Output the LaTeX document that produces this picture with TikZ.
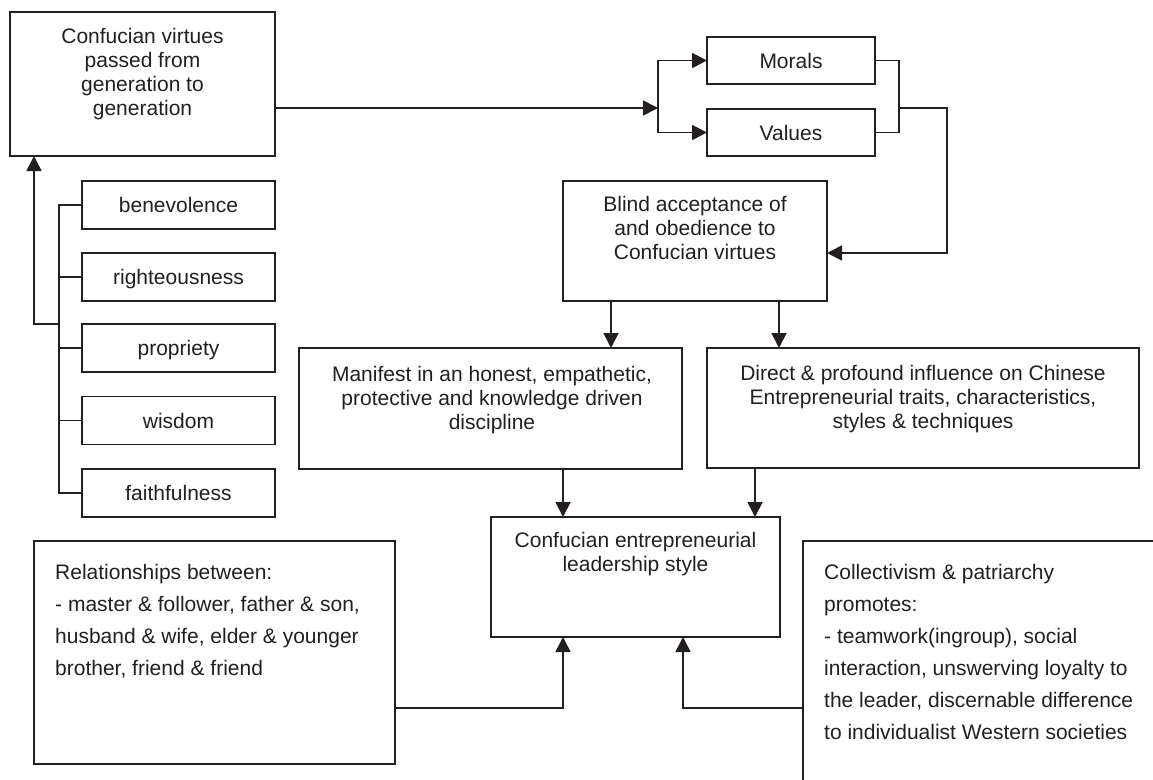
\documentclass[tikz,border=0pt]{standalone}
\usepackage{fontspec}
\setmainfont{Liberation Sans}
\usetikzlibrary{arrows.meta}
\definecolor{ink}{HTML}{231F20}
\tikzset{
  box/.style={draw=ink, line width=1.7pt, inner sep=0pt, outer sep=0pt, fill=white},
  label text/.style={font=\fontsize{21}{24}\selectfont, text height=15pt, text depth=0pt, text=ink},
  txt/.style={font=\fontsize{21}{24}\selectfont, align=center, inner sep=0pt, anchor=north, text=ink},
  widetxt/.style={font=\fontsize{21}{32}\selectfont, align=left, inner sep=0pt, anchor=north west, text=ink},
  conn/.style={draw=ink, line width=1.7pt, line join=miter},
  arr/.style={conn, -{Triangle[length=15pt,width=15pt]}},
}
\begin{document}
\begin{tikzpicture}[x=1pt,y=-1pt]
\useasboundingbox (0,0) rectangle (1153,779);
\clip (0,0) rectangle (1153,779);

% source box
\node[box, minimum width=265pt, minimum height=144pt] (A) at (142.5,84) {};
\node[txt] (Atext) at (142.5,26.2) {\strut Confucian virtues\\passed from\\generation to\\generation};

% the five virtues
\node[box, label text, minimum width=193pt, minimum height=48pt] (v1) at (178.5,205) {benevolence};
\node[box, label text, minimum width=193pt, minimum height=48pt] (v2) at (178.5,277) {righteousness};
\node[box, label text, minimum width=193pt, minimum height=48pt] (v3) at (178.5,348.3) {propriety};
\node[box, label text, minimum width=193pt, minimum height=48pt] (v4) at (178.5,420.5) {wisdom};
\node[box, label text, minimum width=193pt, minimum height=48pt] (v5) at (178.5,492.8) {faithfulness};

% morals and values
\node[box, label text, minimum width=168pt, minimum height=47pt] (M) at (791,60.5) {Morals};
\node[box, label text, minimum width=168pt, minimum height=47pt] (V) at (791,132.5) {Values};

% blind acceptance
\node[box, minimum width=264pt, minimum height=120pt] (B) at (695,241) {};
\node[txt] (Btext) at (695,194.2) {\strut Blind acceptance of\\and obedience to\\Confucian virtues};

% two consequences
\node[box, minimum width=383pt, minimum height=121pt] (Mf) at (490.5,408.5) {};
\node[txt] (Mftext) at (492,364.2) {\strut Manifest in an honest, empathetic,\\protective and knowledge driven\\discipline};
\node[box, minimum width=432pt, minimum height=120pt] (D) at (923,408) {};
\node[txt] (Dtext) at (923,363.2) {\strut Direct \& profound influence on Chinese\\Entrepreneurial traits, characteristics,\\styles \& techniques};

% leadership style
\node[box, minimum width=289pt, minimum height=120pt] (L) at (635.5,577) {};
\node[txt] (Ltext) at (635.5,530.2) {\strut Confucian entrepreneurial\\leadership style};

% relationships
\node[box, minimum width=361pt, minimum height=223pt] (R) at (214.5,652.5) {};
\node[widetxt] (Rtext) at (55,556.6) {\strut Relationships between:\\- master \& follower, father \& son,\\husband \& wife, elder \& younger\\brother, friend \& friend};

% collectivism (runs past the page edge)
\node[box, minimum width=447pt, minimum height=359pt] (C) at (1026.5,720.5) {};
\node[widetxt] (Ctext) at (824,556.6) {\strut Collectivism \& patriarchy\\promotes:\\- teamwork(ingroup), social\\interaction, unswerving loyalty to\\the leader, discernable difference\\to individualist Western societies};

% bus collecting the virtues
\coordinate (bus) at (59,0);
\coordinate (busJ) at (59,324);
\coordinate (upL) at (34,324);
\draw[conn] (v1.west) -- (v1.west -| bus) -- (v5.west -| bus) -- (v5.west);
\draw[conn] (v2.west) -- (v2.west -| bus);
\draw[conn] (v3.west) -- (v3.west -| bus);
\draw[conn] (v4.west) -- (v4.west -| bus);
\draw[arr] (busJ) -- (upL) -- (upL |- A.south);

% source to morals and values
\coordinate (split) at (658,108);
\draw[arr] (split -| A.east) -- (split);
\draw[arr] (split) |- (M.west);
\draw[arr] (split) |- (V.west);

% morals and values to blind acceptance
\coordinate (merge) at (899,108);
\coordinate (bend) at (947,253);
\draw[conn] (M.east) -| (merge) |- (V.east);
\draw[arr] (merge) -| (bend) -- (bend -| B.east);

% blind acceptance to the two consequences
\coordinate (b1) at (611,0);
\coordinate (b2) at (779,0);
\draw[arr] (b1 |- B.south) -- (b1 |- Mf.north);
\draw[arr] (b2 |- B.south) -- (b2 |- D.north);

% consequences to leadership style
\coordinate (l1) at (563,0);
\coordinate (l2) at (755,0);
\draw[arr] (l1 |- Mf.south) -- (l1 |- L.north);
\draw[arr] (l2 |- D.south) -- (l2 |- L.north);

% context boxes to leadership style
\coordinate (jr) at (563,708);
\coordinate (jc) at (683,708);
\draw[arr] (jr -| R.east) -- (jr) -- (jr |- L.south);
\draw[arr] (jc -| C.west) -- (jc) -- (jc |- L.south);
\end{tikzpicture}
\end{document}
